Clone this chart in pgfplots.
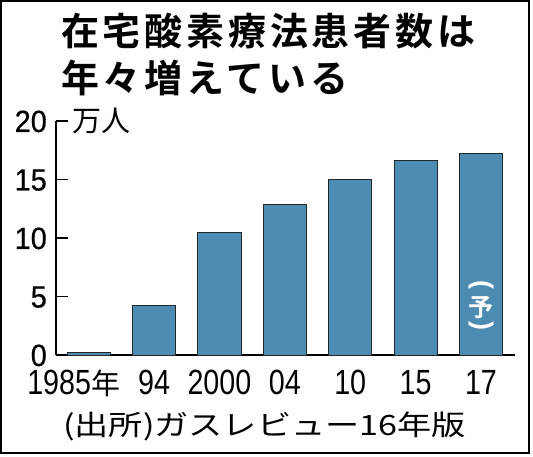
\documentclass[border=0pt]{standalone}
\usepackage{pgfplots}
\pgfplotsset{compat=1.18}
\usepackage{fontspec}
\setmainfont{Liberation Sans}
\newfontfamily\jp{Noto Sans CJK JP}[BoldFont={Noto Sans CJK JP Bold}]
\newfontfamily\jptitle{Noto Sans CJK JP Bold}[LetterSpace=10]
\newfontfamily\jpsrc{Noto Sans CJK JP}[FakeStretch=1.22]
\newfontfamily\xnum{Liberation Sans}[FakeStretch=0.82]
\newfontfamily\ynum{Liberation Sans}[FakeStretch=0.94,FakeBold=0.6]
\definecolor{barblue}{RGB}{76,139,178}
\newcommand{\xl}[1]{{\xnum #1}}
\begin{document}
\begin{tikzpicture}
\useasboundingbox (-56pt,-102pt) rectangle (477pt,355pt);
\begin{axis}[
  scale only axis,
  width=459pt, height=234pt,
  at={(0pt,0pt)}, anchor=south west,
  xmin=-0.5, xmax=6.52, ymin=0, ymax=20,
  axis x line=bottom, axis y line=left,
  axis line style={-, line width=1.2pt, black},
  ybar, bar width=0.66,
  xtick={0,1,2,3,4,5,6},
  xticklabels={{\kern-30pt\xl{1985}{\jp\fontsize{29}{30}\selectfont 年}},\xl{94},\xl{2000},\xl{04},\xl{10},\xl{15},\xl{17}},
  xtick style={draw=none},
  ytick={0,5,10,15,20},
  tick align=inside,
  major tick length=12pt,
  ytick style={line width=1.2pt, black},
  /pgf/number format/assume math mode=true,
  yticklabel style={font=\ynum\fontsize{30.7}{32}\selectfont, text height=22pt, text depth=0pt, inner sep=0pt, anchor=east, xshift=-9pt},
  xticklabel style={font=\xnum\fontsize{35}{36}\selectfont, text height=25pt, text depth=0pt, inner sep=0pt, anchor=north, yshift=-14pt},
  clip=false,
]
\addplot[fill=barblue, draw=black!85, line width=0.8pt] coordinates {(0,0.25) (1,4.2) (2,10.5) (3,12.9) (4,15.0) (5,16.6) (6,17.25)};
\node[anchor=west, inner sep=0pt, xshift=16pt, font=\jp\fontsize{29}{30}\selectfont] at (rel axis cs:0,1) {万人};
\node[text=white, inner sep=0pt, font=\bfseries\fontsize{27}{27}\selectfont] at (axis cs:6,5.85) {\rotatebox[origin=c]{-90}{(}};
\node[text=white, inner sep=0pt, font=\jp\bfseries\fontsize{25}{25}\selectfont] at (axis cs:6,4.06) {予};
\node[text=white, inner sep=0pt, font=\bfseries\fontsize{27}{27}\selectfont] at (axis cs:6,2.35) {\rotatebox[origin=c]{-90}{)}};
\end{axis}
\node[anchor=base west, inner sep=0pt, font=\jptitle\fontsize{38}{40}\selectfont] at (5pt,309pt) {在宅酸素療法患者数は};
\node[anchor=base west, inner sep=0pt, font=\jptitle\fontsize{38}{40}\selectfont] at (5pt,262pt) {年々増えている};
\node[anchor=west, inner sep=0pt, font=\jpsrc\fontsize{28}{30}\selectfont] at (7pt,-71pt) {(出所)ガスレビュー16年版};
\draw[line width=2pt, black] (-55pt,-98pt) rectangle (473pt,354pt);
\end{tikzpicture}
\end{document}
